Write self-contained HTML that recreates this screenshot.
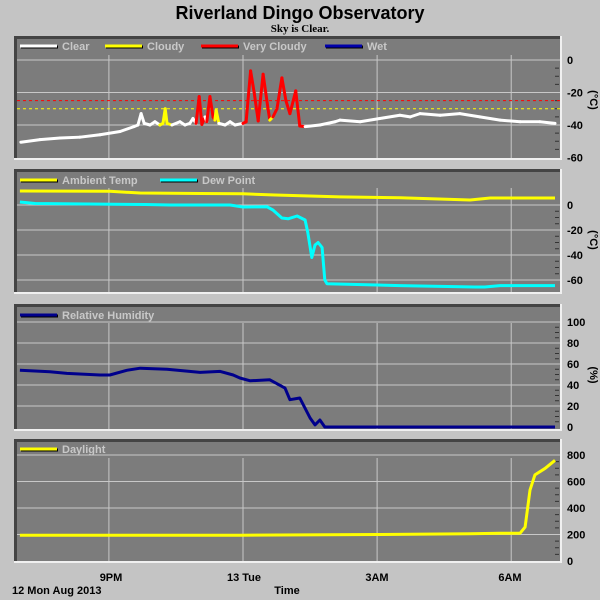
<!DOCTYPE html>
<html><head><meta charset="utf-8"><style>
html,body{margin:0;padding:0;background:#c4c4c4;}
svg{display:block;}
text{font-family:"Liberation Sans",Arial,sans-serif;}
</style></head><body>
<svg id="chart" width="600" height="600" viewBox="0 0 600 600" xmlns="http://www.w3.org/2000/svg">
<rect x="0" y="0" width="600" height="600" fill="#c4c4c4"/>
<text x="300" y="19" text-anchor="middle" font-size="18" font-weight="bold" fill="#000">Riverland Dingo Observatory</text>
<text x="300" y="32" text-anchor="middle" font-size="11" font-weight="bold" fill="#000" style="font-family:'Liberation Serif',serif">Sky is Clear.</text>
<g id="panels"></g>
<text x="111" y="581" text-anchor="middle" font-size="11" font-weight="bold">9PM</text>
<text x="244" y="581" text-anchor="middle" font-size="11" font-weight="bold">13 Tue</text>
<text x="377" y="581" text-anchor="middle" font-size="11" font-weight="bold">3AM</text>
<text x="510" y="581" text-anchor="middle" font-size="11" font-weight="bold">6AM</text>
<text x="12" y="594" font-size="11" font-weight="bold">12 Mon Aug 2013</text>
<text x="287" y="594" text-anchor="middle" font-size="11" font-weight="bold">Time</text>
</svg>
<script>
// ---- data (time in hours relative to midnight 13 Tue) ----
const skyTimes=[-4.97,-4.54,-4.09,-3.65,-3.2,-2.75,-2.44,-2.35,-2.28,-2.21,-2.08,-1.97,-1.86,-1.79,-1.74,-1.70,-1.59,-1.41,-1.30,-1.19,-1.12,-1.05,-0.98,-0.92,-0.85,-0.81,-0.74,-0.67,-0.63,-0.60,-0.54,-0.40,-0.29,-0.18,0,0.07,0.17,0.25,0.34,0.45,0.56,0.60,0.67,0.76,0.87,0.96,1.05,1.18,1.27,1.39,1.72,2.06,2.17,2.62,3.06,3.51,3.74,3.96,4.41,4.85,5.30,5.75,6.20,6.64,6.98];
const skyValues=[-50.6,-49,-48,-47.5,-46,-44,-41,-40,-33,-39,-40,-38,-40,-39,-30,-39,-40,-38,-40,-39,-36,-39,-22.5,-39.6,-35,-38,-22.5,-35,-37,-31,-39,-40,-38,-40,-39,-38,-6.7,-20,-37.5,-8.75,-30,-37,-35,-30,-11,-25,-33,-19,-40.6,-41,-40,-38,-37,-38,-36,-34,-35,-33,-34,-33,-35,-37,-38,-38,-39];
const skyStates=["c","c","c","c","c","c","c","c","c","c","c","c","c","y","y","y","c","c","c","c","c","c","r","r","c","c","r","r","c","y","c","c","c","c","c","r","r","r","r","r","r","c","y","r","r","r","r","r","r","c","c","c","c","c","c","c","c","c","c","c","c","c","c","c","c"];
const ambTimes=[-4.99,-2.98,-2.30,-0.96,0,0.72,2.17,3.51,5.08,5.53,6.98];
const ambValues=[11.2,11,9.6,9.2,9,8,6.5,5.8,4,5.6,5.6];
const dewTimes=[-4.99,-4.65,-2.19,-1.63,-0.29,0,0.54,0.67,0.87,1.01,1.21,1.39,1.45,1.54,1.61,1.68,1.77,1.83,1.88,3.51,5.19,5.41,5.75,6.98];
const dewValues=[2.4,1.2,0.4,0,0,-1.6,-1.4,-4,-10.4,-11,-8.8,-12,-22,-42,-32,-30,-34,-60,-63,-64.5,-65.6,-65.6,-64.5,-64.5];
const rhTimes=[-4.99,-4.32,-3.94,-3.2,-2.98,-2.6,-2.3,-1.7,-0.96,-0.51,-0.22,-0.07,0.16,0.6,0.94,1.05,1.27,1.5,1.61,1.72,1.83,6.98];
const rhValues=[54,52.7,51,49.5,49.5,54,56,55,52,53,49.5,46.7,44,45,37,26,27.6,8.6,2,6.7,0,0];
const dayTimes=[-4.99,-0.07,3.0,5.08,5.75,6.2,6.31,6.42,6.53,6.76,6.98];
const dayValues=[195,195,200,205,210,210,256,535,650,700,760];
const p1Ticks=[0,-20,-40,-60];
const p2Ticks=[0,-20,-40,-60];
const p3Ticks=[100,80,60,40,20,0];
const p4Ticks=[800,600,400,200,0];
const xGridHours=[-3,0,3,6];

const NS="http://www.w3.org/2000/svg";
const root=document.getElementById('panels');
function xs(t){return 243+44.7*t;}
function mk(tag,attrs,parent){const e=document.createElementNS(NS,tag);for(const k in attrs)e.setAttribute(k,attrs[k]);(parent||root).appendChild(e);return e;}

const panels=[
 {name:'sky-temp',top:36,bottom:159,y0:60,k:1.625,ticks:p1Ticks,unit:'(°C)',unitY:100},
 {name:'temperature',top:169,bottom:293,y0:205,k:1.25,ticks:p2Ticks,unit:'(°C)',unitY:240},
 {name:'humidity',top:304,bottom:430,y0:427,k:1.05,ticks:p3Ticks,unit:'(%)',unitY:375},
 {name:'daylight',top:439,bottom:562,y0:561,k:0.1325,ticks:p4Ticks,unit:'',unitY:0}
];
panels.forEach(p=>{p.ys=v=>p.y0-v*p.k;});

panels.forEach(p=>{
 const g=mk('g',{});
 
 
 const bg=mk('rect',{x:14,y:p.top,width:547,height:p.bottom-p.top,fill:'#7c7c7c'},g);
 
 
 mk('rect',{x:14,y:p.top,width:547,height:3,fill:'#444'},g);
 mk('rect',{x:14,y:p.top,width:3,height:p.bottom-p.top,fill:'#444'},g);
 mk('rect',{x:14,y:p.bottom-1,width:547,height:2,fill:'#f0f0f0'},g);
 mk('rect',{x:560,y:p.top,width:2,height:p.bottom-p.top+1,fill:'#f0f0f0'},g);
 xGridHours.forEach(h=>{
  const l=mk('line',{x1:xs(h),x2:xs(h),y1:p.top+19,y2:p.bottom-1,stroke:'#c8c8c8','stroke-width':1},g);
  
  
 });
 p.ticks.forEach(v=>{
  const y=p.ys(v);
  if(y>p.top+4&&y<p.bottom-3){
   const l=mk('line',{x1:17,x2:560,y1:y,y2:y,stroke:'#c8c8c8','stroke-width':1},g);
   
   
  }
  const t=mk('text',{x:567,y:y+4,'font-size':11,'font-weight':'bold',fill:'#000'},g);
  t.textContent=v;
  
  
 });
 // minor ticks on right
 for(let i=0;i<p.ticks.length-1;i++){
  const a=p.ys(p.ticks[i]),b=p.ys(p.ticks[i+1]);
  for(let j=1;j<4;j++){const y=a+(b-a)*j/4;mk('line',{x1:555,x2:559,y1:y,y2:y,stroke:'#333'},g);}
 }
 if(p.unit){
  const u=mk('text',{x:590,y:p.unitY,'font-size':11,'font-weight':'bold',transform:'rotate(90 590 '+p.unitY+')','text-anchor':'middle'},g);
  u.textContent=p.unit;
  
  
 }
 p.g=g;
});

function legend(g,x,y,color,label){
 const lg=mk('g',{},g);
 
 
 mk('line',{x1:x+1,x2:x+38,y1:y+1,y2:y+1,stroke:'#000','stroke-width':3},lg);
 mk('line',{x1:x,x2:x+37,y1:y,y2:y,stroke:color,'stroke-width':3},lg);
 const t=mk('text',{x:x+42,y:y+4,'font-size':11,'font-weight':'bold',fill:'#c8c8c8'},lg);
 t.textContent=label;
}
function series(p,times,vals,color,name,w){
 const d=times.map((t,i)=>(i?'L':'M')+xs(t).toFixed(1)+','+p.ys(vals[i]).toFixed(1)).join('');
 const path=mk('path',{d:d,fill:'none',stroke:color,'stroke-width':w||3,'stroke-linejoin':'round'},p.g);
 
 
}

// Panel 1: sky temperature
const P1=panels[0];
legend(P1.g,20,46,'#fff','Clear');legend(P1.g,105,46,'#ff0','Cloudy');legend(P1.g,201,46,'#f00','Very Cloudy');legend(P1.g,325,46,'#00a','Wet');
const th1=mk('line',{x1:17,x2:560,y1:P1.ys(-25),y2:P1.ys(-25),stroke:'#f00','stroke-dasharray':'3,3'},P1.g);


const th2=mk('line',{x1:17,x2:560,y1:P1.ys(-30),y2:P1.ys(-30),stroke:'#ff0','stroke-dasharray':'3,3'},P1.g);


const sev={c:0,y:1,r:2},col=['#fff','#ff0','#f00'];
for(let i=1;i<skyTimes.length;i++){
 const s=Math.max(sev[skyStates[i-1]],sev[skyStates[i]]);
 const seg=mk('line',{x1:xs(skyTimes[i-1]),y1:P1.ys(skyValues[i-1]),x2:xs(skyTimes[i]),y2:P1.ys(skyValues[i]),stroke:col[s],'stroke-width':3,'stroke-linecap':'round'},P1.g);
 
 
}
// Panel 2
const P2=panels[1];
legend(P2.g,20,180,'#ff0','Ambient Temp');legend(P2.g,160,180,'#0ff','Dew Point');
series(P2,ambTimes,ambValues,'#ff0','ambient-temp-line');
series(P2,dewTimes,dewValues,'#0ff','dew-point-line');
// Panel 3
const P3=panels[2];
legend(P3.g,20,315,'#00008c','Relative Humidity');
series(P3,rhTimes,rhValues,'#00008c','humidity-line');
// Panel 4
const P4=panels[3];
legend(P4.g,20,449,'#ff0','Daylight');
series(P4,dayTimes,dayValues,'#ff0','daylight-line');
</script>
</body></html>
